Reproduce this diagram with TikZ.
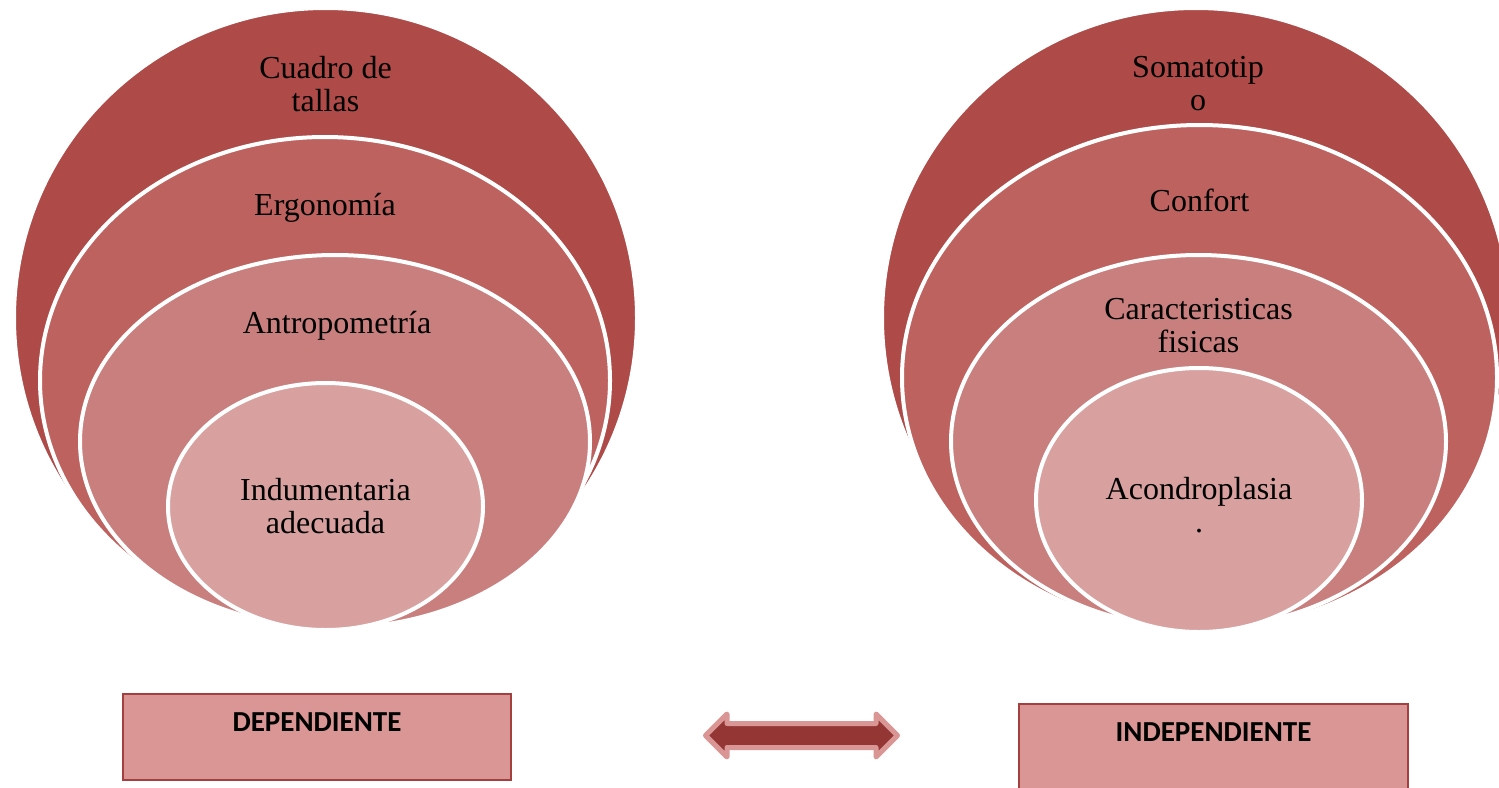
\documentclass[tikz,border=0pt]{standalone}
\usepackage{fontspec}
\setmainfont{Liberation Serif}
\newfontfamily\boxfont{Carlito}
\usepackage{tikz}
\usetikzlibrary{calc}
\usetikzlibrary{shapes.geometric}
\usetikzlibrary{shapes.arrows}
\definecolor{ringA}{HTML}{AE4A47}
\definecolor{ringB}{HTML}{BE625F}
\definecolor{ringC}{HTML}{C87F7E}
\definecolor{ringD}{HTML}{D8A1A0}
\definecolor{boxfill}{HTML}{D99694}
\definecolor{boxline}{HTML}{A3403F}
\definecolor{arrowfill}{HTML}{943634}
\tikzstyle{ring} = [draw=white, line width=4pt, ellipse, inner sep=0, outer sep=0]
\tikzstyle{colorA} = [fill=ringA]
\tikzstyle{colorB} = [fill=ringB]
\tikzstyle{colorC} = [fill=ringC]
\tikzstyle{colorD} = [fill=ringD]
\tikzstyle{lbl} = [align=center, inner sep=0, font=\fontsize{32}{33}\selectfont]
\tikzstyle{varbox} = [draw=boxline, line width=1.5pt, fill=boxfill, rectangle, inner sep=0]
\tikzstyle{boxlbl} = [inner sep=0, font=\boxfont\bfseries\fontsize{29}{33}\selectfont]
\tikzstyle{linkarrow} = [double arrow, draw=boxfill, fill=arrowfill, line width=5pt, line join=round, inner xsep=0, inner ysep=9.5pt, minimum height=192pt, double arrow head extend=9.5pt]

\begin{document}
\begin{tikzpicture}[x=1pt, y=-1pt]
    \useasboundingbox (0,0) rectangle (1499,787);
    \clip (0,0) rectangle (1499,787);

    \node[ring, colorA, minimum width=623pt, minimum height=620pt] (l_ring1) at (325.5,318) {};
    \node[ring, colorB, minimum width=570pt, minimum height=487pt] (l_ring2) at (325,380.5) {};
    \node[ring, colorC, minimum width=510pt, minimum height=373pt] (l_ring3) at (335,441.5) {};
    \node[ring, colorD, minimum width=315pt, minimum height=247pt] (l_ring4) at (325.5,506.5) {};
    \node[lbl] (l_cuadro) at ($(l_ring1.north)+(0,76)$) {Cuadro de\\tallas};
    \node[lbl] (l_ergo) at ($(l_ring2.north)+(0,71)$) {Ergonomía};
    \node[lbl] (l_antro) at ($(l_ring3.north)+(2,71)$) {Antropometría};
    \node[lbl] (l_indu) at (l_ring4) {Indumentaria\\adecuada};

    \node[ring, colorA, minimum width=628pt, minimum height=620pt] (r_ring1) at (1196,318) {};
    \node[ring, colorB, minimum width=595pt, minimum height=505pt] (r_ring2) at (1199.5,377.5) {};
    \node[ring, colorC, minimum width=495pt, minimum height=373pt] (r_ring3) at (1198.5,441.5) {};
    \node[ring, colorD, minimum width=326pt, minimum height=264pt] (r_ring4) at (1199,500) {};
    \node[lbl] (r_somato) at ($(r_ring1.north)+(2,76)$) {Somatotip\\o};
    \node[lbl] (r_confort) at ($(r_ring2.north)+(0,75)$) {Confort};
    \node[lbl] (r_caract) at ($(r_ring3.north)+(0,71)$) {Caracteristicas\\fisicas};
    \node[lbl] (r_acondro) at ($(r_ring4)+(0,5)$) {Acondroplasia\\.};

    \node[varbox, minimum width=388pt, minimum height=86pt] (dep_box) at (317,737) {};
    \node[boxlbl] (dep_lbl) at ($(dep_box.north)+(0,29)$) {DEPENDIENTE};
    \node[varbox, minimum width=389pt, minimum height=86pt] (indep_box) at (1213.5,747) {};
    \node[boxlbl] (indep_lbl) at ($(indep_box.north)+(0,29)$) {INDEPENDIENTE};

    \node[linkarrow] (link) at (801.5,735.5) {};
\end{tikzpicture}
\end{document}
